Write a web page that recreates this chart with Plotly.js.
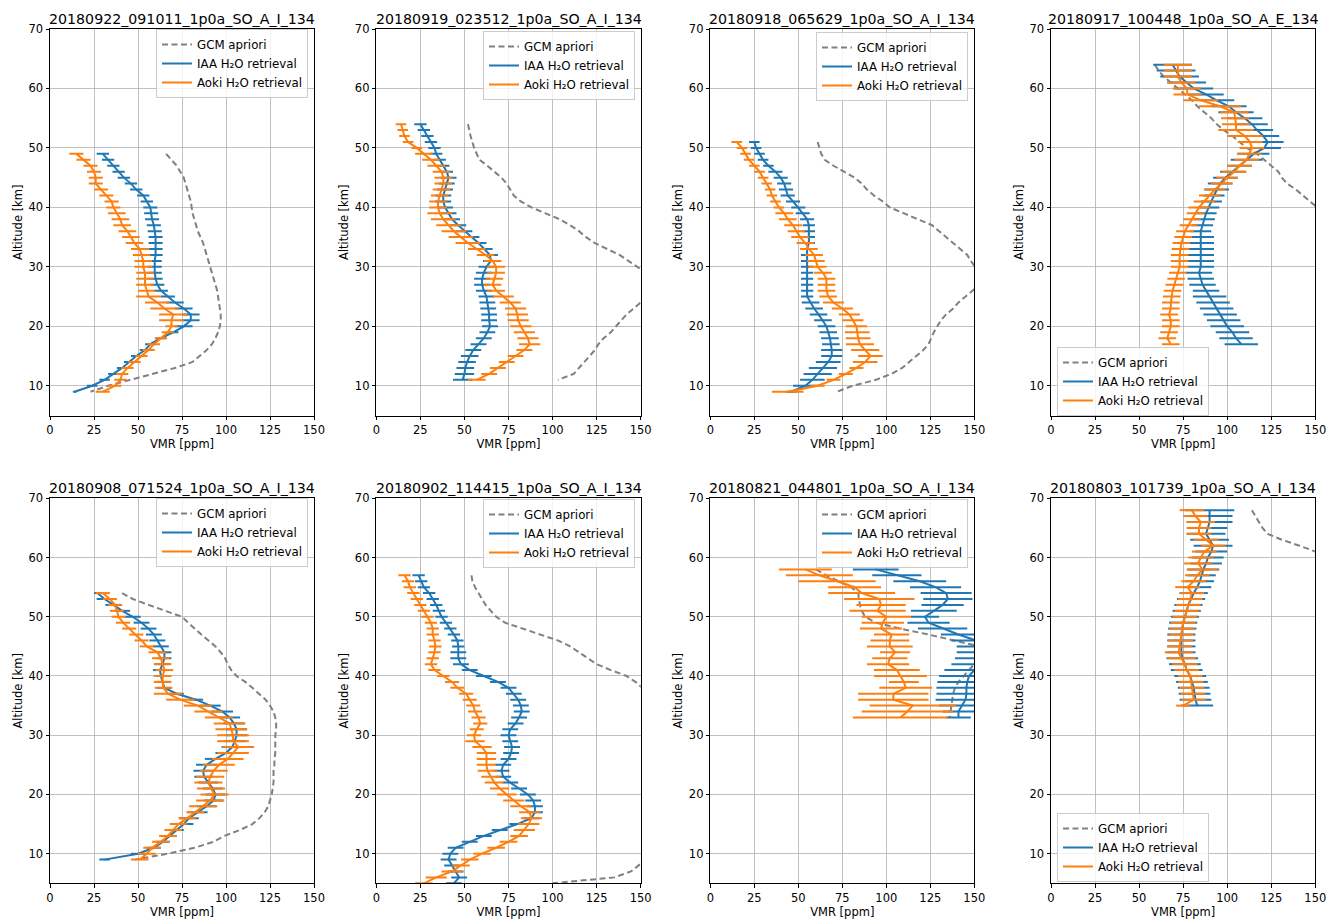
<!DOCTYPE html>
<html><head><meta charset="utf-8">
<script src="https://cdn.plot.ly/plotly-3.0.1.min.js"></script>
<style>html,body{margin:0;padding:0;background:#fff}#chart{width:1336px;height:924px}</style>
</head><body><div id="chart"></div>
<script>
// ---------- tick labels ----------
const xTickVals = [0, 25, 50, 75, 100, 125, 150];
const yTickVals = [10, 20, 30, 40, 50, 60, 70];
const seriesNames = ['GCM apriori', 'IAA H₂O retrieval', 'Aoki H₂O retrieval'];
const panelTitles = [
  '20180922_091011_1p0a_SO_A_I_134', '20180919_023512_1p0a_SO_A_I_134',
  '20180918_065629_1p0a_SO_A_I_134', '20180917_100448_1p0a_SO_A_E_134',
  '20180908_071524_1p0a_SO_A_I_134', '20180902_114415_1p0a_SO_A_I_134',
  '20180821_044801_1p0a_SO_A_I_134', '20180803_101739_1p0a_SO_A_I_134'
];

// ---------- panel 1 ----------
const p1_alt = [49,48,47,46,45,44,43,42,41,40,39,38,37,36,35,34,33,32,31,30,29,28,27,26,25,24,23,22,21,20,19,18,17,16,15,14,13,12,11,10,9];
const p1_iaa = [30,33,36,39,42,46,49,53,55,57, 57.5,58,59,59.5,60,60,60,60,59.5,59.5, 59.5,60,61,63,67,71,76,80,80,76, 70,63,57,54,49,45,41,36,31,24, 14];
const p1_iaa_err = [3.5,3.5,3.5,3.5,3.5,3.5,3.5,3.5,3.5, 4,4,4,4,4,4,4,4,4,4,4,4,4,4,4,4, 5,5,5,5,5, 3,3,3,3,3,3,3,3,3,3, 1];
const p1_aoki = [15,19,23,25,26,26,29,32,35,36, 38,40,41,44,46,48,51,52,53,53, 54,54,54,55,56,61,65,70,69,69, 67,63,59,56,52,48,44,41,40,37, 30];
const p1_aoki_err = [4,4,4,4,4,4,4,4,4,4, 5,5,5,5,5,5,5,5,5,5,5,5,5,5, 7,7,8,8,7, 3.5,3.5,3.5,3.5,3.5,3.5,3.5,3.5,3.5,3.5,3.5, 4];
const p1_gcm_alt = [49,48,47,46,45,44,43,42,41,40,39,38,37,36,35,34,33,32,31,30,29,28,27,26,25,24,23,22,21,20,19,18,17,16,15,14,13,12,11,10,9];
const p1_gcm = [66,69,72,74,76,77,78,79,80,80.5, 81,82,83,84,85.5,87,88,89,90,91, 92,93,94,95,95.5,96,96.5,97,97,96.5, 95.5,94,92,89,85,81,71,58,45,33, 23];

// ---------- panel 2 ----------
const p2_alt = [54,53,52,51,50,49,48,47,46,45,44,43,42,41,40,39,38,37,36,35,34,33,32,31,30,29,28,27,26,25,24,23,22,21,20,19,18,17,16,15,14,13,12,11];
const p2_iaa = [25,27,29,31,33,34,36,38,40,41, 40,39,38,38,39,41,43,46.5,50,54, 58,61.5,64.5,65,62.5,61,60,60,61,62.5, 63,63.5,64,64,64.5,63,61,58,55,53, 51.5,50.5,50,49];
const p2_iaa_err = [3.5,3.5,3.5,3.5,3.5,3.5,3.5,3.5,3.5, 4.5,4.5,4.5,4.5,4.5,4.5,4.5,4.5,4.5,4.5,4.5,4.5,4.5,4.5,4.5,4.5,4.5,4.5,4.5,4.5,4.5,4.5,4.5,4.5,4.5,4.5,4.5,4.5,4.5,4.5,5,5,5,5.5,5.5];
const p2_aoki = [14,15,16,18,23,27,31,34,37,38, 38,37,36,35,35,36,38,41,44,48, 52,57,62,66,68,68,67,66,68,72, 76,79,80,80.5,82,84,86,87,84,79, 74,69,64,57];
const p2_aoki_err = [3,3,3,3,3, 5,5,5,5,5,5,5,5,5,5, 7,7,7,7,7,7, 5,5,5,5,5,5,5,5, 6,6,6,6,6,6,6,6,6, 4.5,4.5,4.5,4.5,4.5,5];
const p2_gcm_alt = [54,52,50,48,47,46,45,44,43,42,41,40,39,38,37,36,35,34,33,32,31,30,29,28,27,26,25,24,23,22,21,20,19,18,17,16,15,14,13,12,11];
const p2_gcm = [52,53.5,55.5,58.5,63,67,71,74,76,78, 82,88,96,104,110,115,119,124,131,138, 143,148,153,158,160,158,154,150,146,142, 139,136,133,129,126,124,121,118,115,112, 103];

// ---------- panel 3 ----------
const p3_alt = [51,50,49,48,47,46,45,44,43,42,41,40,39,38,37,36,35,34,33,32,31,30,29,28,27,26,25,24,23,22,21,20,19,18,17,16,15,14,13,12,11,10,9];
const p3_iaa = [25,26,28,30,33,37,40,42,43,44, 47,50,52.5,55,56,56,56,56,55,55, 55,55,55,55,55,55,55,57,59,61.5, 64,66,67,68,68.5,69,69,67,64,61, 58,54,46];
const p3_iaa_err = [3,3,3,3,3, 4,4,4,4,4,4,4,4,4, 3.5,3.5,3.5,3.5,3.5,3.5,3.5,3.5,3.5,3.5,3.5,3.5,3.5, 5,5,5,5,5,5,5,5, 6,6,7,8, 8,7,7, 3];
const p3_aoki = [15,18,20,22,25,28,30,32,34,35, 37,39,42,44,47,49,51,54,56,59, 60,61,64,66,66,66,67,70,75,79, 81,83,83.5,84,85,88,91,88,83,77, 70,61,44];
const p3_aoki_err = [3,3,3,3,3,3,3,3,3,3,3,3, 5,5,5,5,5,5,5,5,5,5,5,5,5,5,5, 6,6,6,6,6, 7,7,8,8,7,7, 4,4,4,4, 9];
const p3_gcm_alt = [51,49,48,47,46,45,44,43,42,41,40,39,38,37,36,35,34,33,32,31,30,29,28,27,26,25,24,23,22,21,20,19,18,17,16,15,14,13,12,11,10,9];
const p3_gcm = [61,63,65,70,76,82,86,89,93,98, 102,110,118,126,130,134,138,142,146,148, 150.5,155,156,153,149,145,141,138,134,131, 129,127,125.5,124,121,117,113,109,103,94, 81,72];

// ---------- panel 4 ----------
const p4_alt = [64,63,62,61,60,59,58,57,56,55,54,53,52,51,50,49,48,47,46,45,44,43,42,41,40,39,38,37,36,35,34,33,32,31,30,29,28,27,26,25,24,23,22,21,20,19,18,17];
const p4_iaa = [69,71,73,77,81,88,94,101,105,110, 114,117,120.5,123,121,115,111,107,103,99, 96,94,92.5,91,89.5,88,87,86,85,85, 85,85,85,85,85,84,85,86,88,90, 92,94,96,98,100,103,105,108];
const p4_iaa_err = [11,11,11,11,11, 10,10,10,10,10, 9,9,9,9,9.5,9,9, 7,7,7,7,7, 6,6,6,6,6,6,6, 7.5,7.5,7.5,7.5,7.5,7.5,7.5,7.5,7.5,7.5, 9.5,9.5,9.5,9.5,9.5,9.5,9.5,9.5,9.5];
const p4_aoki = [72,72,72,74,77,77.5,85,96,104,104.5, 105,105,110,113,114,112.5,111,107,104,100, 97,93,90,87,84,82,80,78,76,75, 74,73.5,73,73,73,72,71,70,69,68.5, 68,68,67,68,68,67,66,68];
const p4_aoki_err = [8,8,8,8,8,8,10, 12,8,8,8,10,10, 7,7,7,7,7,7, 6,6,6,6,6,6, 5,5,5,5,5,5,5,5,5,5,5,5,5,5,5,5,5,5,5,5,5,5,5];
const p4_gcm_alt = [64,63,62,61,60,59,58,57,56,55,54,53,52,51,50,49,48,47,46,45,44,43,42,41,40,39];
const p4_gcm = [59,61,64,68,72,76,80,83,87,91, 94,98,103,107,111,117,121,125,129,131, 134,139,143,147,150.5,155];

// ---------- panel 5 ----------
const p5_alt = [54,53,52,51,50,49,48,47,46,45,44,43,42,41,40,39,38,37,36,35,34,33,32,31,30,29,28,27,26,25,24,23,22,21,20,19,18,17,16,15,14,13,12,11,10,9];
const p5_iaa = [27,31,36,41,47,52,56,59,61,63, 65,65,64,62.5,63,64,65,72,83,91, 98,102,104.5,106,106,105,103.5,100,94,89, 87,87.5,90,92.5,94,93,89,84,79,76, 72,68,64,59,50,31];
const p5_iaa_err = [2, 4.5,4.5,4.5,4.5,4.5,4.5,4.5,4.5,4.5, 4,4,4,4,4,4,4,4,4, 6,6,6,6,6,6,6,6,6,6,6, 5.5,5.5,5.5,5.5,5.5,5.5,5.5,5.5,5.5,5.5, 4,4,4,4,4, 3];
const p5_aoki = [30,34,37,38,39,41.5,45,49,52,55, 61,63,64,65,64,64,64.5,67,74,84, 90,96,102,103,104,104,107,104,101,96, 93,91,90,91.5,93.5,91,87,82.5,78,73, 70,67,63,58,55,51];
const p5_aoki_err = [4,4,4,4,4,4,4,4,4,4, 5,5,5,5,5,5,5, 8,8,8,8,8, 9,9,9,9,9,9,9,9, 8,8,8,8,8,8,8, 5,5,5,5,5,5,5,5, 5];
const p5_gcm_alt = [54,53,52,51,50,49,48,47,46,45,44,43,42,41,40,39,38,37,36,35,34,33,32,31,30,29,28,27,26,25,24,23,22,21,20,19,18,17,16,15,14,13,12,11,10,9];
const p5_gcm = [41,47,56,66,75,78.5,82,86,90,94, 97,99.5,101,103,106,111,115,119,122.5,125, 127,128,128.5,128.5,128,128,128,128,127.5,127.5, 127,127,127,126.5,126,125,124,122,119,115, 108,99,93,82,67,48];

// ---------- panel 6 ----------
const p6_alt = [57,56,55,54,53,52,51,50,49,48,47,46,45,44,43,42,41,40,39,38,37,36,35,34,33,32,31,30,29,28,27,26,25,24,23,22,21,20,19,18,17,16,15,14,13,12,11,10,9,8,7,6,5];
const p6_iaa = [24,25.5,27,30,32,34,35.5,37,39.5,42, 44,46,46.5,46.5,46.5,48,53,61,69,75, 78,80.5,82,82.5,81,79,76,75,76,77, 76.5,75,72,71,72,76,81,86,89,90, 90,88,80,70,61,53,45,42,41,43, 45,47,44];
const p6_iaa_err = [3.5,3.5,3.5,3.5,3.5,3.5,3.5,3.5,3.5,3.5,3.5,3.5,3.5, 4.5,4.5,4.5,4.5,4.5,4.5,4.5,4.5,4.5,4.5,4.5,4.5,4.5,4.5,4.5,4.5,4.5,4.5,4.5,4.5,4.5,4.5,4.5,4.5,4.5,4.5,4.5,4.5,4.5,4.5,4.5,4.5,4.5,4.5,4.5,4.5,4.5,4.5,4.5,4.5];
const p6_aoki = [16,18,19,21,23,25,27,29,31,32, 32,33,33.5,33,32,31,33,38,43,46, 51,53,55,56,58,59,57,55.5,56,60, 62.5,62.5,62.5,63,65,67,70,74,78,82, 87,88,86.5,84,81,75,68,60,53,48, 43,34,27];
const p6_aoki_err = [3.5,3.5,3.5,3.5,3.5,3.5,3.5,3.5,3.5,3.5,3.5,3.5,3.5,3.5,3.5,3.5,3.5,3.5, 4,4,4,4,4,4,4,4,4,4, 5.5,5.5,5.5,5.5,5.5,5.5,5.5,5.5,5.5,5.5, 6,6,6,6,6,6, 5,5,5,5,5,5,6,6,5];
const p6_gcm_alt = [57,56,55,54,53,52,51,50,49,48,47,46,45,44,43,42,41,40,39,38,37,36,11,10,9,8,7,6,5];
const p6_gcm = [54,54.5,56,58,60,62,65,68,73,83, 93,103,110,115,120,125,133,142,147,151, 156,160, 162,158,153,148.5,144.5,135,100];

// ---------- panel 7 ----------
const p7_alt = [58,57,56,55,54,53,52,51,50,49,48,47,46,45,44,43,42,41,40,39,38,37,36,35,34,33];
const p7_iaa = [94,106,119,128,134,135,132,127,122,124, 132,141,151,155,156,155,153,150,147,146, 145.5,145.5,145,143,141,141];
const p7_iaa_err = [13,14,15,14.5,14.5,14,12,13,8,12, 14,10,14,15,16,16,16,17,17,17, 17,17,17,13,9,7];
const p7_aoki = [54,62,72,82,86,96,97,95,100,98, 97,103,102,102,105,102,101,106,108,110, 111,104,104,115,112,108];
const p7_aoki_err = [15,19,22,15,19,20,14,16,14,12, 12,10,11,13,8.5,10,12,13,15,8.5, 15,20,20,24.5,26,27];
const p7_gcm_alt = [58,57,56,55,54,53,52,51,50,49,48,47,46,45,44,43,42,41,40,39,38,37,36,35,34,33];
const p7_gcm = [60,66,73,80,84,84.5,85,86,88,94, 108,124,138,153,156,154,150,147,144,141, 139,138,137.5,137,136.5,136];

// ---------- panel 8 ----------
const p8_alt = [68,67,66,65,64,63,62,61,60,59,58,57,56,55,54,53,52,51,50,49,48,47,46,45,44,43,42,41,40,39,38,37,36,35];
const p8_iaa = [90,90,90,89,88,90,92,91,89,88, 86.5,85.5,84.5,83,81,79.5,78,77,76,75, 74.5,74,74,74,74,74.5,76,77,79,80, 81,81.5,82,83];
const p8_iaa_err = [14,13,13,11,11,11,11,9,9,9, 9,8,8,8,8,8,8,8,8,8, 8,8,8,8,8,9,9,9,9,9, 9,9,9,9];
const p8_aoki = [80,82,85,84,84,88,92,87,85,83.5, 86,83,81,77.5,80,79,78,77,76,75, 74.5,74,73.5,73,72.5,74,76,77,79,79.5, 80,80.5,81,75];
const p8_aoki_err = [7,7,8,7,7,7,7,7,7,8, 9,7,7,7,7,7,7,7,7,7, 7,7,7,7,8,8,7,7,7,7, 7,7,7,4];
const p8_gcm_alt = [68,67,66,65,64,63,62,61,60,59];
const p8_gcm = [114,116,118,120,123,131,141,150,157,163];

// ---------- assemble ----------
const panels = [
  {alt:p1_alt, iaa:p1_iaa, iaaErr:p1_iaa_err, aoki:p1_aoki, aokiErr:p1_aoki_err, gAlt:p1_gcm_alt, gcm:p1_gcm},
  {alt:p2_alt, iaa:p2_iaa, iaaErr:p2_iaa_err, aoki:p2_aoki, aokiErr:p2_aoki_err, gAlt:p2_gcm_alt, gcm:p2_gcm},
  {alt:p3_alt, iaa:p3_iaa, iaaErr:p3_iaa_err, aoki:p3_aoki, aokiErr:p3_aoki_err, gAlt:p3_gcm_alt, gcm:p3_gcm},
  {alt:p4_alt, iaa:p4_iaa, iaaErr:p4_iaa_err, aoki:p4_aoki, aokiErr:p4_aoki_err, gAlt:p4_gcm_alt, gcm:p4_gcm},
  {alt:p5_alt, iaa:p5_iaa, iaaErr:p5_iaa_err, aoki:p5_aoki, aokiErr:p5_aoki_err, gAlt:p5_gcm_alt, gcm:p5_gcm},
  {alt:p6_alt, iaa:p6_iaa, iaaErr:p6_iaa_err, aoki:p6_aoki, aokiErr:p6_aoki_err, gAlt:p6_gcm_alt, gcm:p6_gcm},
  {alt:p7_alt, iaa:p7_iaa, iaaErr:p7_iaa_err, aoki:p7_aoki, aokiErr:p7_aoki_err, gAlt:p7_gcm_alt, gcm:p7_gcm},
  {alt:p8_alt, iaa:p8_iaa, iaaErr:p8_iaa_err, aoki:p8_aoki, aokiErr:p8_aoki_err, gAlt:p8_gcm_alt, gcm:p8_gcm}
];

const W = 1336, H = 924;
const colPx = [[50, 314], [376.3, 640.7], [710.3, 974.3], [1051, 1315.3]];
const rowPx = [[29, 415.5], [498.3, 883.3]];
// legend boxes: [x px, y px, xanchor, yanchor]
const legPos = [
  [308, 29, 'right', 'top'], [635, 31, 'right', 'top'], [968, 32, 'right', 'top'], [1057, 416, 'left', 'bottom'],
  [308, 498, 'right', 'top'], [635, 499, 'right', 'top'], [968, 499, 'right', 'top'], [1057, 882, 'left', 'bottom']
];

const BLUE = '#1f77b4', ORANGE = '#ff7f0e', GREY = '#808080';
const FONT = 'DejaVu Sans, Verdana, sans-serif';
const traces = [];
const layout = {
  width: W, height: H,
  margin: {l: 0, r: 0, t: 0, b: 0},
  paper_bgcolor: '#fff', plot_bgcolor: '#fff',
  font: {family: FONT, size: 11.5, color: '#000'},
  showlegend: true,
  annotations: []
};

panels.forEach((p, k) => {
  const i = k + 1;
  const xa = 'x' + (i === 1 ? '' : i), ya = 'y' + (i === 1 ? '' : i);
  const lg = 'legend' + (i === 1 ? '' : i);
  traces.push({
    x: p.gcm, y: p.gAlt, xaxis: xa, yaxis: ya, legend: lg, name: seriesNames[0],
    mode: 'lines', line: {color: GREY, width: 2, dash: '6px,3.5px'}, hoverinfo: 'x+y'
  });
  traces.push({
    x: p.iaa, y: p.alt, xaxis: xa, yaxis: ya, legend: lg, name: seriesNames[1],
    mode: 'lines', line: {color: BLUE, width: 2},
    error_x: {type: 'data', array: p.iaaErr, visible: true, color: BLUE, thickness: 2, width: 0}
  });
  traces.push({
    x: p.aoki, y: p.alt, xaxis: xa, yaxis: ya, legend: lg, name: seriesNames[2],
    mode: 'lines', line: {color: ORANGE, width: 2},
    error_x: {type: 'data', array: p.aokiErr, visible: true, color: ORANGE, thickness: 2, width: 0}
  });
  const c = colPx[k % 4], r = rowPx[Math.floor(k / 4)];
  const axCommon = {
    ticks: 'outside', ticklen: 3.5, tickwidth: 1, tickcolor: '#000',
    showline: true, mirror: true, linecolor: '#000', linewidth: 1,
    showgrid: true, gridcolor: '#b0b0b0', gridwidth: 0.8, zeroline: false,
    tickfont: {size: 11.5, color: '#000'}, automargin: false, fixedrange: true
  };
  layout['xaxis' + (i === 1 ? '' : i)] = Object.assign({}, axCommon, {
    domain: [c[0] / W, c[1] / W], anchor: ya, range: [0, 150],
    tickmode: 'array', tickvals: xTickVals,
    title: {text: 'VMR [ppm]', font: {size: 11.5, color: '#000'}, standoff: 3}
  });
  layout['yaxis' + (i === 1 ? '' : i)] = Object.assign({}, axCommon, {
    domain: [1 - r[1] / H, 1 - r[0] / H], anchor: xa, range: [5, 70],
    tickmode: 'array', tickvals: yTickVals,
    title: {text: 'Altitude [km]', font: {size: 11.5, color: '#000'}, standoff: 3}
  });
  const L = legPos[k];
  layout[lg] = {
    x: L[0] / W, y: 1 - L[1] / H, xanchor: L[2], yanchor: L[3],
    bgcolor: 'rgba(255,255,255,0.8)', bordercolor: '#cccccc', borderwidth: 1,
    font: {family: FONT, size: 11.8, color: '#000'}, itemwidth: 30, tracegroupgap: 0,
    traceorder: 'normal'
  };
  layout.annotations.push({
    text: panelTitles[k], xref: xa + ' domain', yref: ya + ' domain',
    x: 0.5, y: 1, xanchor: 'center', yanchor: 'bottom', yshift: 0,
    showarrow: false, font: {family: FONT, size: 14.2, color: '#000'}
  });
});

Plotly.newPlot('chart', traces, layout, {displayModeBar: false, staticPlot: true});
</script></body></html>
